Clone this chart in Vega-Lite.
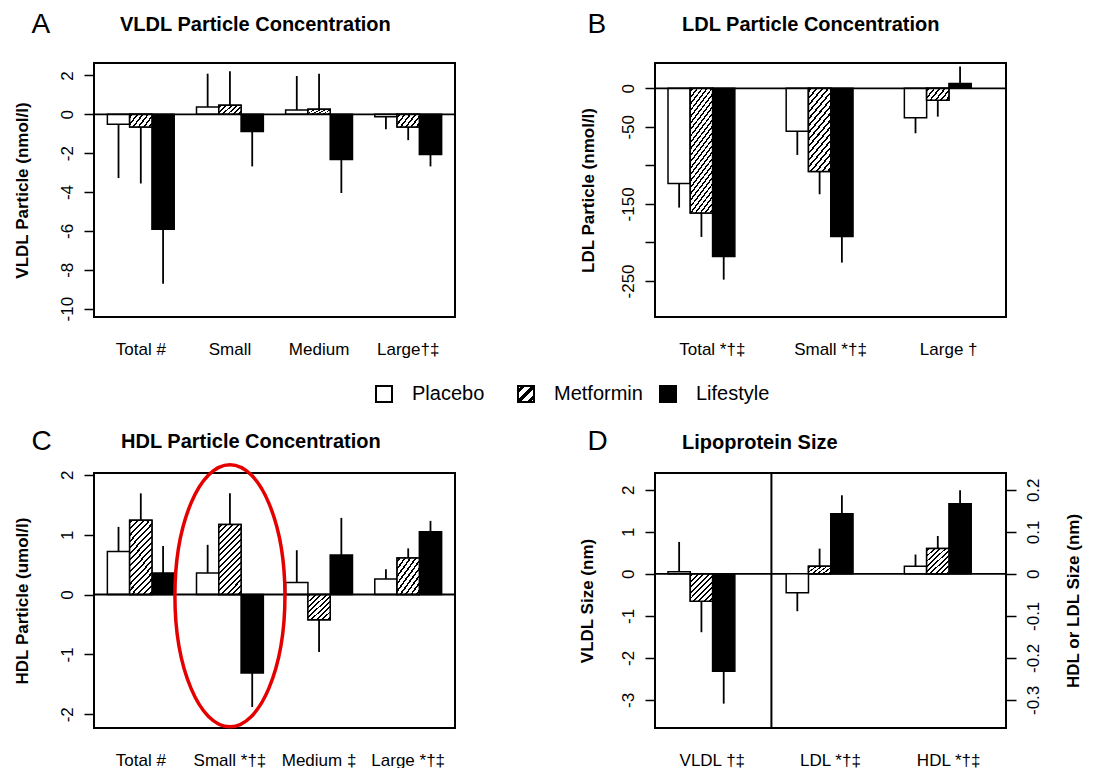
{
"$schema": "https://vega.github.io/schema/vega-lite/v6.json",
"background": "white",
"padding": {"left": 11, "top": 9, "right": 5, "bottom": 2},
"bounds": "flush",
"columns": 2,
"spacing": {"row": 156, "column": 200},
"config": {
 "font": "Liberation Sans",
 "view": {"stroke": "#000", "strokeWidth": 2},
 "axis": {"labelFont": "Liberation Sans", "titleFont": "Liberation Sans", "labelColor": "#000", "titleColor": "#000", "tickColor": "#000", "domain": false, "grid": false, "labelFontSize": 17, "titleFontSize": 17, "titleFontWeight": "bold", "labelOverlap": false},
 "axisX": {"ticks": false, "tickSize": 0, "labelPadding": 24, "labelAngle": 0, "labelBaseline": "top", "titleFontSize": 28, "titleFontWeight": "normal", "titleAlign": "left", "titleBaseline": "alphabetic", "titleAngle": 0},
 "axisY": {"tickSize": 10, "tickWidth": 1.5, "labelAngle": -90, "labelAlign": "center", "labelBaseline": "middle", "labelPadding": 17},
 "title": {"font": "Liberation Sans", "fontSize": 20, "fontWeight": "bold", "color": "#000", "anchor": "start", "frame": "group", "baseline": "alphabetic"}
},
"datasets": {
 "A": [
  {"cat": "Total #", "group": "Placebo", "value": -0.51, "err": -3.28},
  {"cat": "Total #", "group": "Metformin", "value": -0.65, "err": -3.56},
  {"cat": "Total #", "group": "Lifestyle", "value": -5.91, "err": -8.72},
  {"cat": "Small", "group": "Placebo", "value": 0.38, "err": 2.09},
  {"cat": "Small", "group": "Metformin", "value": 0.46, "err": 2.22},
  {"cat": "Small", "group": "Lifestyle", "value": -0.89, "err": -2.68},
  {"cat": "Medium", "group": "Placebo", "value": 0.22, "err": 1.97},
  {"cat": "Medium", "group": "Metformin", "value": 0.26, "err": 2.09},
  {"cat": "Medium", "group": "Lifestyle", "value": -2.32, "err": -4.05},
  {"cat": "Large†‡", "group": "Placebo", "value": -0.12, "err": -0.77},
  {"cat": "Large†‡", "group": "Metformin", "value": -0.65, "err": -1.33},
  {"cat": "Large†‡", "group": "Lifestyle", "value": -2.07, "err": -2.68}
 ],
 "B": [
  {"cat": "Total *†‡", "group": "Placebo", "value": -123.7, "err": -154.8},
  {"cat": "Total *†‡", "group": "Metformin", "value": -161.8, "err": -192.9},
  {"cat": "Total *†‡", "group": "Lifestyle", "value": -218.4, "err": -248.3},
  {"cat": "Small *†‡", "group": "Placebo", "value": -55.8, "err": -86.5},
  {"cat": "Small *†‡", "group": "Metformin", "value": -108.1, "err": -137.5},
  {"cat": "Small *†‡", "group": "Lifestyle", "value": -192.5, "err": -226.2},
  {"cat": "Large †", "group": "Placebo", "value": -38.1, "err": -58.4},
  {"cat": "Large †", "group": "Metformin", "value": -15.6, "err": -36.8},
  {"cat": "Large †", "group": "Lifestyle", "value": 6.1, "err": 28.1}
 ],
 "C": [
  {"cat": "Total #", "group": "Placebo", "value": 0.72, "err": 1.13},
  {"cat": "Total #", "group": "Metformin", "value": 1.24, "err": 1.69},
  {"cat": "Total #", "group": "Lifestyle", "value": 0.36, "err": 0.81},
  {"cat": "Small *†‡", "group": "Placebo", "value": 0.36, "err": 0.83},
  {"cat": "Small *†‡", "group": "Metformin", "value": 1.17, "err": 1.69},
  {"cat": "Small *†‡", "group": "Lifestyle", "value": -1.31, "err": -1.88},
  {"cat": "Medium ‡", "group": "Placebo", "value": 0.2, "err": 0.74},
  {"cat": "Medium ‡", "group": "Metformin", "value": -0.42, "err": -0.96},
  {"cat": "Medium ‡", "group": "Lifestyle", "value": 0.66, "err": 1.28},
  {"cat": "Large *†‡", "group": "Placebo", "value": 0.26, "err": 0.42},
  {"cat": "Large *†‡", "group": "Metformin", "value": 0.61, "err": 0.77},
  {"cat": "Large *†‡", "group": "Lifestyle", "value": 1.05, "err": 1.23}
 ],
 "D1": [
  {"cat": "VLDL †‡", "group": "Placebo", "value": 0.05, "err": 0.76},
  {"cat": "VLDL †‡", "group": "Metformin", "value": -0.65, "err": -1.39},
  {"cat": "VLDL †‡", "group": "Lifestyle", "value": -2.32, "err": -3.09}
 ],
 "D2": [
  {"cat": "LDL *†‡", "group": "Placebo", "value": -0.045, "err": -0.089},
  {"cat": "LDL *†‡", "group": "Metformin", "value": 0.018, "err": 0.06},
  {"cat": "LDL *†‡", "group": "Lifestyle", "value": 0.143, "err": 0.187},
  {"cat": "HDL *†‡", "group": "Placebo", "value": 0.018, "err": 0.046},
  {"cat": "HDL *†‡", "group": "Metformin", "value": 0.06, "err": 0.09},
  {"cat": "HDL *†‡", "group": "Lifestyle", "value": 0.167, "err": 0.199}
 ]
},
"concat": [
  {
    "title": {"text": "VLDL Particle  Concentration", "dx": 26, "offset": -24.5},
    "width": 361, "height": 254,
    "data": {"name": "A"},
    "layer": [
     {"mark": {"type": "bar", "stroke": "#000", "strokeWidth": 1.5},
      "encoding": {
       "x": {"field": "cat", "type": "nominal", "sort": null, "scale": {"domain": ["Total #", "Small", "Medium", "Large†‡"], "paddingInner": 0.25, "paddingOuter": 0.15}, "axis": {"title": "A", "titleX": -63, "titleY": -284.3}},
       "xOffset": {"field": "group", "type": "nominal", "scale": {"domain": ["Placebo", "Metformin", "Lifestyle"], "paddingInner": 0, "paddingOuter": 0}},
       "y": {"field": "value", "type": "quantitative", "scale": {"domain": [-10.43, 2.64], "nice": false, "zero": false}, "axis": {"values": [-10, -8, -6, -4, -2, 0, 2], "title": "VLDL Particle  (nmol/l)", "labelExpr": "'' + datum.value", "titlePadding": 27}},
       "fill": {"field": "group", "type": "nominal", "scale": {"domain": ["Placebo", "Metformin", "Lifestyle"], "range": ["#ffffff", {"expr": "{gradient: 'linear', x1: 0, y1: 0, x2: 1, y2: 1, stops: [{offset: 0, color: '#fff'}, {offset: 0.1, color: '#fff'}, {offset: 0.1, color: '#000'}, {offset: 0.2333, color: '#000'}, {offset: 0.2333, color: '#fff'}, {offset: 0.4333, color: '#fff'}, {offset: 0.4333, color: '#000'}, {offset: 0.5667, color: '#000'}, {offset: 0.5667, color: '#fff'}, {offset: 0.7667, color: '#fff'}, {offset: 0.7667, color: '#000'}, {offset: 0.9, color: '#000'}, {offset: 0.9, color: '#fff'}, {offset: 1, color: '#fff'}]}"}, "#000000"]},
        "legend": {"title": null, "orient": "none", "direction": "horizontal", "legendX": 280, "legendY": 321, "symbolType": "square", "symbolSize": 256, "symbolStrokeColor": "#000", "symbolStrokeWidth": 2, "symbolOpacity": 1, "labelFontSize": 20, "labelFont": "Liberation Sans", "labelColor": "#000", "labelOffset": 18, "columnPadding": 13, "gridAlign": "all", "padding": 0,
         "encode": {"symbols": {"update": {"stroke": {"value": "#000"}, "strokeWidth": {"value": 2}}}}}}
      }},
     {"transform": [{"filter": {"field": "group", "equal": "Metformin"}}],
      "mark": {"type": "bar", "stroke": "#000", "strokeWidth": 1.5, "fill": {"gradient": "linear", "x1": 0, "y1": 0, "x2": 1.206, "y2": 0.531, "stops": [{"offset": 0, "color": "#fff"}, {"offset": 0.05, "color": "#fff"}, {"offset": 0.05, "color": "#000"}, {"offset": 0.1083, "color": "#000"}, {"offset": 0.1083, "color": "#fff"}, {"offset": 0.2167, "color": "#fff"}, {"offset": 0.2167, "color": "#000"}, {"offset": 0.275, "color": "#000"}, {"offset": 0.275, "color": "#fff"}, {"offset": 0.3833, "color": "#fff"}, {"offset": 0.3833, "color": "#000"}, {"offset": 0.4417, "color": "#000"}, {"offset": 0.4417, "color": "#fff"}, {"offset": 0.55, "color": "#fff"}, {"offset": 0.55, "color": "#000"}, {"offset": 0.6083, "color": "#000"}, {"offset": 0.6083, "color": "#fff"}, {"offset": 0.7167, "color": "#fff"}, {"offset": 0.7167, "color": "#000"}, {"offset": 0.775, "color": "#000"}, {"offset": 0.775, "color": "#fff"}, {"offset": 0.8833, "color": "#fff"}, {"offset": 0.8833, "color": "#000"}, {"offset": 0.9417, "color": "#000"}, {"offset": 0.9417, "color": "#fff"}, {"offset": 1, "color": "#fff"}]}},
      "encoding": {
       "x": {"field": "cat", "type": "nominal", "sort": null},
       "xOffset": {"field": "group", "type": "nominal"},
       "y": {"field": "value", "type": "quantitative"}
      }},
     {"mark": {"type": "rule", "color": "#000", "strokeWidth": 1.8},
      "encoding": {
       "x": {"field": "cat", "type": "nominal", "sort": null},
       "xOffset": {"field": "group", "type": "nominal"},
       "y": {"field": "value", "type": "quantitative"},
       "y2": {"field": "err"}
      }},
     {"data": {"values": [{}]}, "mark": {"type": "rule", "color": "#000", "strokeWidth": 1.8}, "encoding": {"y": {"datum": 0, "type": "quantitative"}}}
    ]
  },
  {
    "title": {"text": "LDL Particle Concentration", "dx": 27, "offset": -24.5},
    "width": 351, "height": 254,
    "data": {"name": "B"},
    "layer": [
     {"mark": {"type": "bar", "stroke": "#000", "strokeWidth": 1.5},
      "encoding": {
       "x": {"field": "cat", "type": "nominal", "sort": null, "scale": {"domain": ["Total *†‡", "Small *†‡", "Large †"], "paddingInner": 0.25, "paddingOuter": 0.11}, "axis": {"title": "B", "titleX": -68, "titleY": -284.3}},
       "xOffset": {"field": "group", "type": "nominal", "scale": {"domain": ["Placebo", "Metformin", "Lifestyle"], "paddingInner": 0, "paddingOuter": 0}},
       "y": {"field": "value", "type": "quantitative", "scale": {"domain": [-296.8, 32.8], "nice": false, "zero": false}, "axis": {"values": [-250, -200, -150, -100, -50, 0], "title": "LDL Particle (nmol/l)", "labelExpr": "datum.value == -100 || datum.value == -200 ? '' : '' + datum.value", "titlePadding": 22}},
       "fill": {"field": "group", "type": "nominal", "scale": {"domain": ["Placebo", "Metformin", "Lifestyle"]}}
      }},
     {"transform": [{"filter": {"field": "group", "equal": "Metformin"}}, {"filter": {"field": "cat", "equal": "Total *†‡"}}],
      "mark": {"type": "bar", "stroke": "#000", "strokeWidth": 1.5, "fill": {"gradient": "linear", "x1": 0, "y1": 0, "x2": 0.276, "y2": 1.171, "stops": [{"offset": 0, "color": "#fff"}, {"offset": 0.0125, "color": "#fff"}, {"offset": 0.0125, "color": "#000"}, {"offset": 0.0271, "color": "#000"}, {"offset": 0.0271, "color": "#fff"}, {"offset": 0.0542, "color": "#fff"}, {"offset": 0.0542, "color": "#000"}, {"offset": 0.0688, "color": "#000"}, {"offset": 0.0688, "color": "#fff"}, {"offset": 0.0958, "color": "#fff"}, {"offset": 0.0958, "color": "#000"}, {"offset": 0.1104, "color": "#000"}, {"offset": 0.1104, "color": "#fff"}, {"offset": 0.1375, "color": "#fff"}, {"offset": 0.1375, "color": "#000"}, {"offset": 0.1521, "color": "#000"}, {"offset": 0.1521, "color": "#fff"}, {"offset": 0.1792, "color": "#fff"}, {"offset": 0.1792, "color": "#000"}, {"offset": 0.1938, "color": "#000"}, {"offset": 0.1938, "color": "#fff"}, {"offset": 0.2208, "color": "#fff"}, {"offset": 0.2208, "color": "#000"}, {"offset": 0.2354, "color": "#000"}, {"offset": 0.2354, "color": "#fff"}, {"offset": 0.2625, "color": "#fff"}, {"offset": 0.2625, "color": "#000"}, {"offset": 0.2771, "color": "#000"}, {"offset": 0.2771, "color": "#fff"}, {"offset": 0.3042, "color": "#fff"}, {"offset": 0.3042, "color": "#000"}, {"offset": 0.3188, "color": "#000"}, {"offset": 0.3188, "color": "#fff"}, {"offset": 0.3458, "color": "#fff"}, {"offset": 0.3458, "color": "#000"}, {"offset": 0.3604, "color": "#000"}, {"offset": 0.3604, "color": "#fff"}, {"offset": 0.3875, "color": "#fff"}, {"offset": 0.3875, "color": "#000"}, {"offset": 0.4021, "color": "#000"}, {"offset": 0.4021, "color": "#fff"}, {"offset": 0.4292, "color": "#fff"}, {"offset": 0.4292, "color": "#000"}, {"offset": 0.4438, "color": "#000"}, {"offset": 0.4438, "color": "#fff"}, {"offset": 0.4708, "color": "#fff"}, {"offset": 0.4708, "color": "#000"}, {"offset": 0.4854, "color": "#000"}, {"offset": 0.4854, "color": "#fff"}, {"offset": 0.5125, "color": "#fff"}, {"offset": 0.5125, "color": "#000"}, {"offset": 0.5271, "color": "#000"}, {"offset": 0.5271, "color": "#fff"}, {"offset": 0.5542, "color": "#fff"}, {"offset": 0.5542, "color": "#000"}, {"offset": 0.5688, "color": "#000"}, {"offset": 0.5688, "color": "#fff"}, {"offset": 0.5958, "color": "#fff"}, {"offset": 0.5958, "color": "#000"}, {"offset": 0.6104, "color": "#000"}, {"offset": 0.6104, "color": "#fff"}, {"offset": 0.6375, "color": "#fff"}, {"offset": 0.6375, "color": "#000"}, {"offset": 0.6521, "color": "#000"}, {"offset": 0.6521, "color": "#fff"}, {"offset": 0.6792, "color": "#fff"}, {"offset": 0.6792, "color": "#000"}, {"offset": 0.6938, "color": "#000"}, {"offset": 0.6938, "color": "#fff"}, {"offset": 0.7208, "color": "#fff"}, {"offset": 0.7208, "color": "#000"}, {"offset": 0.7354, "color": "#000"}, {"offset": 0.7354, "color": "#fff"}, {"offset": 0.7625, "color": "#fff"}, {"offset": 0.7625, "color": "#000"}, {"offset": 0.7771, "color": "#000"}, {"offset": 0.7771, "color": "#fff"}, {"offset": 0.8042, "color": "#fff"}, {"offset": 0.8042, "color": "#000"}, {"offset": 0.8188, "color": "#000"}, {"offset": 0.8188, "color": "#fff"}, {"offset": 0.8458, "color": "#fff"}, {"offset": 0.8458, "color": "#000"}, {"offset": 0.8604, "color": "#000"}, {"offset": 0.8604, "color": "#fff"}, {"offset": 0.8875, "color": "#fff"}, {"offset": 0.8875, "color": "#000"}, {"offset": 0.9021, "color": "#000"}, {"offset": 0.9021, "color": "#fff"}, {"offset": 0.9292, "color": "#fff"}, {"offset": 0.9292, "color": "#000"}, {"offset": 0.9438, "color": "#000"}, {"offset": 0.9438, "color": "#fff"}, {"offset": 0.9708, "color": "#fff"}, {"offset": 0.9708, "color": "#000"}, {"offset": 0.9854, "color": "#000"}, {"offset": 0.9854, "color": "#fff"}, {"offset": 1, "color": "#fff"}]}},
      "encoding": {
       "x": {"field": "cat", "type": "nominal", "sort": null},
       "xOffset": {"field": "group", "type": "nominal"},
       "y": {"field": "value", "type": "quantitative"}
      }},
     {"transform": [{"filter": {"field": "group", "equal": "Metformin"}}, {"filter": {"field": "cat", "equal": "Small *†‡"}}],
      "mark": {"type": "bar", "stroke": "#000", "strokeWidth": 1.5, "fill": {"gradient": "linear", "x1": 0, "y1": 0, "x2": 0.383, "y2": 1.197, "stops": [{"offset": 0, "color": "#fff"}, {"offset": 0.0188, "color": "#fff"}, {"offset": 0.0188, "color": "#000"}, {"offset": 0.0406, "color": "#000"}, {"offset": 0.0406, "color": "#fff"}, {"offset": 0.0813, "color": "#fff"}, {"offset": 0.0813, "color": "#000"}, {"offset": 0.1031, "color": "#000"}, {"offset": 0.1031, "color": "#fff"}, {"offset": 0.1438, "color": "#fff"}, {"offset": 0.1438, "color": "#000"}, {"offset": 0.1656, "color": "#000"}, {"offset": 0.1656, "color": "#fff"}, {"offset": 0.2063, "color": "#fff"}, {"offset": 0.2063, "color": "#000"}, {"offset": 0.2281, "color": "#000"}, {"offset": 0.2281, "color": "#fff"}, {"offset": 0.2688, "color": "#fff"}, {"offset": 0.2688, "color": "#000"}, {"offset": 0.2906, "color": "#000"}, {"offset": 0.2906, "color": "#fff"}, {"offset": 0.3313, "color": "#fff"}, {"offset": 0.3313, "color": "#000"}, {"offset": 0.3531, "color": "#000"}, {"offset": 0.3531, "color": "#fff"}, {"offset": 0.3938, "color": "#fff"}, {"offset": 0.3938, "color": "#000"}, {"offset": 0.4156, "color": "#000"}, {"offset": 0.4156, "color": "#fff"}, {"offset": 0.4563, "color": "#fff"}, {"offset": 0.4563, "color": "#000"}, {"offset": 0.4781, "color": "#000"}, {"offset": 0.4781, "color": "#fff"}, {"offset": 0.5188, "color": "#fff"}, {"offset": 0.5188, "color": "#000"}, {"offset": 0.5406, "color": "#000"}, {"offset": 0.5406, "color": "#fff"}, {"offset": 0.5813, "color": "#fff"}, {"offset": 0.5813, "color": "#000"}, {"offset": 0.6031, "color": "#000"}, {"offset": 0.6031, "color": "#fff"}, {"offset": 0.6438, "color": "#fff"}, {"offset": 0.6438, "color": "#000"}, {"offset": 0.6656, "color": "#000"}, {"offset": 0.6656, "color": "#fff"}, {"offset": 0.7063, "color": "#fff"}, {"offset": 0.7063, "color": "#000"}, {"offset": 0.7281, "color": "#000"}, {"offset": 0.7281, "color": "#fff"}, {"offset": 0.7688, "color": "#fff"}, {"offset": 0.7688, "color": "#000"}, {"offset": 0.7906, "color": "#000"}, {"offset": 0.7906, "color": "#fff"}, {"offset": 0.8313, "color": "#fff"}, {"offset": 0.8313, "color": "#000"}, {"offset": 0.8531, "color": "#000"}, {"offset": 0.8531, "color": "#fff"}, {"offset": 0.8938, "color": "#fff"}, {"offset": 0.8938, "color": "#000"}, {"offset": 0.9156, "color": "#000"}, {"offset": 0.9156, "color": "#fff"}, {"offset": 0.9563, "color": "#fff"}, {"offset": 0.9563, "color": "#000"}, {"offset": 0.9781, "color": "#000"}, {"offset": 0.9781, "color": "#fff"}, {"offset": 1, "color": "#fff"}]}},
      "encoding": {
       "x": {"field": "cat", "type": "nominal", "sort": null},
       "xOffset": {"field": "group", "type": "nominal"},
       "y": {"field": "value", "type": "quantitative"}
      }},
     {"transform": [{"filter": {"field": "group", "equal": "Metformin"}}, {"filter": {"field": "cat", "equal": "Large †"}}],
      "mark": {"type": "bar", "stroke": "#000", "strokeWidth": 1.5, "fill": {"gradient": "linear", "x1": 0, "y1": 0, "x2": 1.206, "y2": 0.531, "stops": [{"offset": 0, "color": "#fff"}, {"offset": 0.05, "color": "#fff"}, {"offset": 0.05, "color": "#000"}, {"offset": 0.1083, "color": "#000"}, {"offset": 0.1083, "color": "#fff"}, {"offset": 0.2167, "color": "#fff"}, {"offset": 0.2167, "color": "#000"}, {"offset": 0.275, "color": "#000"}, {"offset": 0.275, "color": "#fff"}, {"offset": 0.3833, "color": "#fff"}, {"offset": 0.3833, "color": "#000"}, {"offset": 0.4417, "color": "#000"}, {"offset": 0.4417, "color": "#fff"}, {"offset": 0.55, "color": "#fff"}, {"offset": 0.55, "color": "#000"}, {"offset": 0.6083, "color": "#000"}, {"offset": 0.6083, "color": "#fff"}, {"offset": 0.7167, "color": "#fff"}, {"offset": 0.7167, "color": "#000"}, {"offset": 0.775, "color": "#000"}, {"offset": 0.775, "color": "#fff"}, {"offset": 0.8833, "color": "#fff"}, {"offset": 0.8833, "color": "#000"}, {"offset": 0.9417, "color": "#000"}, {"offset": 0.9417, "color": "#fff"}, {"offset": 1, "color": "#fff"}]}},
      "encoding": {
       "x": {"field": "cat", "type": "nominal", "sort": null},
       "xOffset": {"field": "group", "type": "nominal"},
       "y": {"field": "value", "type": "quantitative"}
      }},
     {"mark": {"type": "rule", "color": "#000", "strokeWidth": 1.8},
      "encoding": {
       "x": {"field": "cat", "type": "nominal", "sort": null},
       "xOffset": {"field": "group", "type": "nominal"},
       "y": {"field": "value", "type": "quantitative"},
       "y2": {"field": "err"}
      }},
     {"data": {"values": [{}]}, "mark": {"type": "rule", "color": "#000", "strokeWidth": 1.8}, "encoding": {"y": {"datum": 0, "type": "quantitative"}}}
    ]
  },
  {
    "title": {"text": "HDL Particle Concentration", "dx": 27, "offset": -24.5},
    "width": 361, "height": 255,
    "data": {"name": "C"},
    "layer": [
     {"mark": {"type": "bar", "stroke": "#000", "strokeWidth": 1.5},
      "encoding": {
       "x": {"field": "cat", "type": "nominal", "sort": null, "scale": {"domain": ["Total #", "Small *†‡", "Medium ‡", "Large *†‡"], "paddingInner": 0.25, "paddingOuter": 0.15}, "axis": {"title": "C", "titleX": -63, "titleY": -279}},
       "xOffset": {"field": "group", "type": "nominal", "scale": {"domain": ["Placebo", "Metformin", "Lifestyle"], "paddingInner": 0, "paddingOuter": 0}},
       "y": {"field": "value", "type": "quantitative", "scale": {"domain": [-2.23, 2.03], "nice": false, "zero": false}, "axis": {"values": [-2, -1, 0, 1, 2], "title": "HDL Particle  (umol/l)", "labelExpr": "'' + datum.value", "titlePadding": 27}},
       "fill": {"field": "group", "type": "nominal", "scale": {"domain": ["Placebo", "Metformin", "Lifestyle"]}}
      }},
     {"transform": [{"filter": {"field": "group", "equal": "Metformin"}}, {"filter": {"field": "cat", "oneOf": ["Total #", "Small *†‡"]}}],
      "mark": {"type": "bar", "stroke": "#000", "strokeWidth": 1.5, "fill": {"gradient": "linear", "x1": 0, "y1": 0, "x2": 0.383, "y2": 1.197, "stops": [{"offset": 0, "color": "#fff"}, {"offset": 0.0188, "color": "#fff"}, {"offset": 0.0188, "color": "#000"}, {"offset": 0.0406, "color": "#000"}, {"offset": 0.0406, "color": "#fff"}, {"offset": 0.0813, "color": "#fff"}, {"offset": 0.0813, "color": "#000"}, {"offset": 0.1031, "color": "#000"}, {"offset": 0.1031, "color": "#fff"}, {"offset": 0.1438, "color": "#fff"}, {"offset": 0.1438, "color": "#000"}, {"offset": 0.1656, "color": "#000"}, {"offset": 0.1656, "color": "#fff"}, {"offset": 0.2063, "color": "#fff"}, {"offset": 0.2063, "color": "#000"}, {"offset": 0.2281, "color": "#000"}, {"offset": 0.2281, "color": "#fff"}, {"offset": 0.2688, "color": "#fff"}, {"offset": 0.2688, "color": "#000"}, {"offset": 0.2906, "color": "#000"}, {"offset": 0.2906, "color": "#fff"}, {"offset": 0.3313, "color": "#fff"}, {"offset": 0.3313, "color": "#000"}, {"offset": 0.3531, "color": "#000"}, {"offset": 0.3531, "color": "#fff"}, {"offset": 0.3938, "color": "#fff"}, {"offset": 0.3938, "color": "#000"}, {"offset": 0.4156, "color": "#000"}, {"offset": 0.4156, "color": "#fff"}, {"offset": 0.4563, "color": "#fff"}, {"offset": 0.4563, "color": "#000"}, {"offset": 0.4781, "color": "#000"}, {"offset": 0.4781, "color": "#fff"}, {"offset": 0.5188, "color": "#fff"}, {"offset": 0.5188, "color": "#000"}, {"offset": 0.5406, "color": "#000"}, {"offset": 0.5406, "color": "#fff"}, {"offset": 0.5813, "color": "#fff"}, {"offset": 0.5813, "color": "#000"}, {"offset": 0.6031, "color": "#000"}, {"offset": 0.6031, "color": "#fff"}, {"offset": 0.6438, "color": "#fff"}, {"offset": 0.6438, "color": "#000"}, {"offset": 0.6656, "color": "#000"}, {"offset": 0.6656, "color": "#fff"}, {"offset": 0.7063, "color": "#fff"}, {"offset": 0.7063, "color": "#000"}, {"offset": 0.7281, "color": "#000"}, {"offset": 0.7281, "color": "#fff"}, {"offset": 0.7688, "color": "#fff"}, {"offset": 0.7688, "color": "#000"}, {"offset": 0.7906, "color": "#000"}, {"offset": 0.7906, "color": "#fff"}, {"offset": 0.8313, "color": "#fff"}, {"offset": 0.8313, "color": "#000"}, {"offset": 0.8531, "color": "#000"}, {"offset": 0.8531, "color": "#fff"}, {"offset": 0.8938, "color": "#fff"}, {"offset": 0.8938, "color": "#000"}, {"offset": 0.9156, "color": "#000"}, {"offset": 0.9156, "color": "#fff"}, {"offset": 0.9563, "color": "#fff"}, {"offset": 0.9563, "color": "#000"}, {"offset": 0.9781, "color": "#000"}, {"offset": 0.9781, "color": "#fff"}, {"offset": 1, "color": "#fff"}]}},
      "encoding": {
       "x": {"field": "cat", "type": "nominal", "sort": null},
       "xOffset": {"field": "group", "type": "nominal"},
       "y": {"field": "value", "type": "quantitative"}
      }},
     {"transform": [{"filter": {"field": "group", "equal": "Metformin"}}, {"filter": {"field": "cat", "oneOf": ["Medium ‡", "Large *†‡"]}}],
      "mark": {"type": "bar", "stroke": "#000", "strokeWidth": 1.5, "fill": {"gradient": "linear", "x1": 0, "y1": 0, "x2": 0.902, "y2": 1.082, "stops": [{"offset": 0, "color": "#fff"}, {"offset": 0.0333, "color": "#fff"}, {"offset": 0.0333, "color": "#000"}, {"offset": 0.0722, "color": "#000"}, {"offset": 0.0722, "color": "#fff"}, {"offset": 0.1444, "color": "#fff"}, {"offset": 0.1444, "color": "#000"}, {"offset": 0.1833, "color": "#000"}, {"offset": 0.1833, "color": "#fff"}, {"offset": 0.2556, "color": "#fff"}, {"offset": 0.2556, "color": "#000"}, {"offset": 0.2944, "color": "#000"}, {"offset": 0.2944, "color": "#fff"}, {"offset": 0.3667, "color": "#fff"}, {"offset": 0.3667, "color": "#000"}, {"offset": 0.4056, "color": "#000"}, {"offset": 0.4056, "color": "#fff"}, {"offset": 0.4778, "color": "#fff"}, {"offset": 0.4778, "color": "#000"}, {"offset": 0.5167, "color": "#000"}, {"offset": 0.5167, "color": "#fff"}, {"offset": 0.5889, "color": "#fff"}, {"offset": 0.5889, "color": "#000"}, {"offset": 0.6278, "color": "#000"}, {"offset": 0.6278, "color": "#fff"}, {"offset": 0.7, "color": "#fff"}, {"offset": 0.7, "color": "#000"}, {"offset": 0.7389, "color": "#000"}, {"offset": 0.7389, "color": "#fff"}, {"offset": 0.8111, "color": "#fff"}, {"offset": 0.8111, "color": "#000"}, {"offset": 0.85, "color": "#000"}, {"offset": 0.85, "color": "#fff"}, {"offset": 0.9222, "color": "#fff"}, {"offset": 0.9222, "color": "#000"}, {"offset": 0.9611, "color": "#000"}, {"offset": 0.9611, "color": "#fff"}, {"offset": 1, "color": "#fff"}]}},
      "encoding": {
       "x": {"field": "cat", "type": "nominal", "sort": null},
       "xOffset": {"field": "group", "type": "nominal"},
       "y": {"field": "value", "type": "quantitative"}
      }},
     {"mark": {"type": "rule", "color": "#000", "strokeWidth": 1.8},
      "encoding": {
       "x": {"field": "cat", "type": "nominal", "sort": null},
       "xOffset": {"field": "group", "type": "nominal"},
       "y": {"field": "value", "type": "quantitative"},
       "y2": {"field": "err"}
      }},
     {"data": {"values": [{}]}, "mark": {"type": "rule", "color": "#000", "strokeWidth": 1.8}, "encoding": {"y": {"datum": 0, "type": "quantitative"}}},
     {"data": {"values": [{"cat": "Small *†‡", "value": -0.02}]},
      "mark": {"type": "point", "shape": "M -0.42 0 A 0.42 1 0 1 1 0.42 0 A 0.42 1 0 1 1 -0.42 0 Z", "size": 68644, "filled": false, "color": "#e50000", "strokeWidth": 3.5, "opacity": 1},
      "encoding": {
       "x": {"field": "cat", "type": "nominal", "sort": null},
       "y": {"field": "value", "type": "quantitative"}
      }}
    ]
  },
  {
    "title": {"text": "Lipoprotein Size", "dx": 27, "offset": -25.5},
    "width": 351, "height": 255,
    "layer": [
     {"data": {"name": "D1"},
      "layer": [
       {"mark": {"type": "bar", "stroke": "#000", "strokeWidth": 1.5},
        "encoding": {
         "x": {"field": "cat", "type": "nominal", "sort": null, "scale": {"domain": ["VLDL †‡", "LDL *†‡", "HDL *†‡"], "paddingInner": 0.25, "paddingOuter": 0.11}, "axis": {"title": "D", "titleX": -68, "titleY": -279}},
         "xOffset": {"field": "group", "type": "nominal", "scale": {"domain": ["Placebo", "Metformin", "Lifestyle"], "paddingInner": 0, "paddingOuter": 0}},
         "y": {"field": "value", "type": "quantitative", "scale": {"domain": [-3.67, 2.4], "nice": false, "zero": false}, "axis": {"orient": "left", "values": [-3, -2, -1, 0, 1, 2], "title": "VLDL Size (nm)", "labelExpr": "'' + datum.value", "titlePadding": 23}},
         "fill": {"field": "group", "type": "nominal", "scale": {"domain": ["Placebo", "Metformin", "Lifestyle"]}}
        }},
       {"transform": [{"filter": {"field": "group", "equal": "Metformin"}}],
        "mark": {"type": "bar", "stroke": "#000", "strokeWidth": 1.5, "fill": {"gradient": "linear", "x1": 0, "y1": 0, "x2": 0.902, "y2": 1.082, "stops": [{"offset": 0, "color": "#fff"}, {"offset": 0.0333, "color": "#fff"}, {"offset": 0.0333, "color": "#000"}, {"offset": 0.0722, "color": "#000"}, {"offset": 0.0722, "color": "#fff"}, {"offset": 0.1444, "color": "#fff"}, {"offset": 0.1444, "color": "#000"}, {"offset": 0.1833, "color": "#000"}, {"offset": 0.1833, "color": "#fff"}, {"offset": 0.2556, "color": "#fff"}, {"offset": 0.2556, "color": "#000"}, {"offset": 0.2944, "color": "#000"}, {"offset": 0.2944, "color": "#fff"}, {"offset": 0.3667, "color": "#fff"}, {"offset": 0.3667, "color": "#000"}, {"offset": 0.4056, "color": "#000"}, {"offset": 0.4056, "color": "#fff"}, {"offset": 0.4778, "color": "#fff"}, {"offset": 0.4778, "color": "#000"}, {"offset": 0.5167, "color": "#000"}, {"offset": 0.5167, "color": "#fff"}, {"offset": 0.5889, "color": "#fff"}, {"offset": 0.5889, "color": "#000"}, {"offset": 0.6278, "color": "#000"}, {"offset": 0.6278, "color": "#fff"}, {"offset": 0.7, "color": "#fff"}, {"offset": 0.7, "color": "#000"}, {"offset": 0.7389, "color": "#000"}, {"offset": 0.7389, "color": "#fff"}, {"offset": 0.8111, "color": "#fff"}, {"offset": 0.8111, "color": "#000"}, {"offset": 0.85, "color": "#000"}, {"offset": 0.85, "color": "#fff"}, {"offset": 0.9222, "color": "#fff"}, {"offset": 0.9222, "color": "#000"}, {"offset": 0.9611, "color": "#000"}, {"offset": 0.9611, "color": "#fff"}, {"offset": 1, "color": "#fff"}]}},
        "encoding": {
         "x": {"field": "cat", "type": "nominal", "sort": null},
         "xOffset": {"field": "group", "type": "nominal"},
         "y": {"field": "value", "type": "quantitative"}
        }},
       {"mark": {"type": "rule", "color": "#000", "strokeWidth": 1.8},
        "encoding": {
         "x": {"field": "cat", "type": "nominal", "sort": null},
         "xOffset": {"field": "group", "type": "nominal"},
         "y": {"field": "value", "type": "quantitative"},
         "y2": {"field": "err"}
        }},
       {"data": {"values": [{}]}, "mark": {"type": "rule", "color": "#000", "strokeWidth": 1.8}, "encoding": {"y": {"datum": 0, "type": "quantitative"}}},
       {"data": {"values": [{"cat": "VLDL †‡"}]}, "mark": {"type": "rule", "color": "#000", "strokeWidth": 2},
        "encoding": {"x": {"field": "cat", "type": "nominal", "sort": null, "bandPosition": 1.1667}}}
      ]},
     {"data": {"name": "D2"},
      "layer": [
       {"mark": {"type": "bar", "stroke": "#000", "strokeWidth": 1.5},
        "encoding": {
         "x": {"field": "cat", "type": "nominal", "sort": null},
         "xOffset": {"field": "group", "type": "nominal"},
         "y": {"field": "value", "type": "quantitative", "scale": {"domain": [-0.367, 0.24], "nice": false, "zero": false}, "axis": {"orient": "right", "values": [-0.3, -0.2, -0.1, 0, 0.1, 0.2], "title": "HDL or LDL Size (nm)", "titleAngle": 270, "titleBaseline": "top", "labelExpr": "'' + datum.value", "titlePadding": 24}},
         "fill": {"field": "group", "type": "nominal", "scale": {"domain": ["Placebo", "Metformin", "Lifestyle"]}}
        }},
       {"transform": [{"filter": {"field": "group", "equal": "Metformin"}}, {"filter": {"field": "cat", "equal": "LDL *†‡"}}],
        "mark": {"type": "bar", "stroke": "#000", "strokeWidth": 1.5, "fill": {"gradient": "linear", "x1": 0, "y1": 0, "x2": 1.206, "y2": 0.531, "stops": [{"offset": 0, "color": "#fff"}, {"offset": 0.05, "color": "#fff"}, {"offset": 0.05, "color": "#000"}, {"offset": 0.1083, "color": "#000"}, {"offset": 0.1083, "color": "#fff"}, {"offset": 0.2167, "color": "#fff"}, {"offset": 0.2167, "color": "#000"}, {"offset": 0.275, "color": "#000"}, {"offset": 0.275, "color": "#fff"}, {"offset": 0.3833, "color": "#fff"}, {"offset": 0.3833, "color": "#000"}, {"offset": 0.4417, "color": "#000"}, {"offset": 0.4417, "color": "#fff"}, {"offset": 0.55, "color": "#fff"}, {"offset": 0.55, "color": "#000"}, {"offset": 0.6083, "color": "#000"}, {"offset": 0.6083, "color": "#fff"}, {"offset": 0.7167, "color": "#fff"}, {"offset": 0.7167, "color": "#000"}, {"offset": 0.775, "color": "#000"}, {"offset": 0.775, "color": "#fff"}, {"offset": 0.8833, "color": "#fff"}, {"offset": 0.8833, "color": "#000"}, {"offset": 0.9417, "color": "#000"}, {"offset": 0.9417, "color": "#fff"}, {"offset": 1, "color": "#fff"}]}},
        "encoding": {
         "x": {"field": "cat", "type": "nominal", "sort": null},
         "xOffset": {"field": "group", "type": "nominal"},
         "y": {"field": "value", "type": "quantitative"}
        }},
       {"transform": [{"filter": {"field": "group", "equal": "Metformin"}}, {"filter": {"field": "cat", "equal": "HDL *†‡"}}],
        "mark": {"type": "bar", "stroke": "#000", "strokeWidth": 1.5, "fill": {"gradient": "linear", "x1": 0, "y1": 0, "x2": 0.902, "y2": 1.082, "stops": [{"offset": 0, "color": "#fff"}, {"offset": 0.0333, "color": "#fff"}, {"offset": 0.0333, "color": "#000"}, {"offset": 0.0722, "color": "#000"}, {"offset": 0.0722, "color": "#fff"}, {"offset": 0.1444, "color": "#fff"}, {"offset": 0.1444, "color": "#000"}, {"offset": 0.1833, "color": "#000"}, {"offset": 0.1833, "color": "#fff"}, {"offset": 0.2556, "color": "#fff"}, {"offset": 0.2556, "color": "#000"}, {"offset": 0.2944, "color": "#000"}, {"offset": 0.2944, "color": "#fff"}, {"offset": 0.3667, "color": "#fff"}, {"offset": 0.3667, "color": "#000"}, {"offset": 0.4056, "color": "#000"}, {"offset": 0.4056, "color": "#fff"}, {"offset": 0.4778, "color": "#fff"}, {"offset": 0.4778, "color": "#000"}, {"offset": 0.5167, "color": "#000"}, {"offset": 0.5167, "color": "#fff"}, {"offset": 0.5889, "color": "#fff"}, {"offset": 0.5889, "color": "#000"}, {"offset": 0.6278, "color": "#000"}, {"offset": 0.6278, "color": "#fff"}, {"offset": 0.7, "color": "#fff"}, {"offset": 0.7, "color": "#000"}, {"offset": 0.7389, "color": "#000"}, {"offset": 0.7389, "color": "#fff"}, {"offset": 0.8111, "color": "#fff"}, {"offset": 0.8111, "color": "#000"}, {"offset": 0.85, "color": "#000"}, {"offset": 0.85, "color": "#fff"}, {"offset": 0.9222, "color": "#fff"}, {"offset": 0.9222, "color": "#000"}, {"offset": 0.9611, "color": "#000"}, {"offset": 0.9611, "color": "#fff"}, {"offset": 1, "color": "#fff"}]}},
        "encoding": {
         "x": {"field": "cat", "type": "nominal", "sort": null},
         "xOffset": {"field": "group", "type": "nominal"},
         "y": {"field": "value", "type": "quantitative"}
        }},
       {"mark": {"type": "rule", "color": "#000", "strokeWidth": 1.8},
        "encoding": {
         "x": {"field": "cat", "type": "nominal", "sort": null},
         "xOffset": {"field": "group", "type": "nominal"},
         "y": {"field": "value", "type": "quantitative"},
         "y2": {"field": "err"}
        }}
      ]}
    ],
    "resolve": {"scale": {"y": "independent"}}
  }
]
}
